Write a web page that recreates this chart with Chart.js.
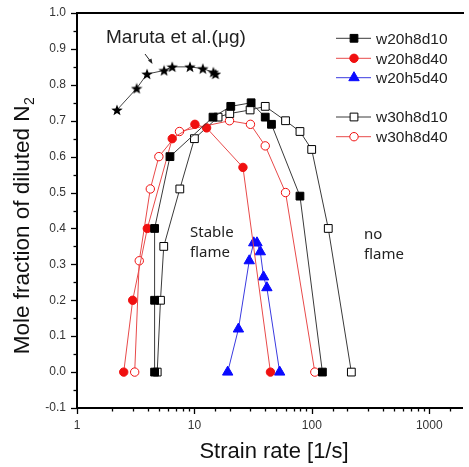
<!DOCTYPE html>
<html><head><meta charset="utf-8">
<script src="https://cdn.jsdelivr.net/npm/chart.js@4/dist/chart.umd.min.js"></script>
<style>html,body{margin:0;padding:0;background:#fff;overflow:hidden}#wrap{width:469px;height:467px;position:relative}</style>
</head><body><div id="wrap"><canvas id="c" width="469" height="467"></canvas></div>
<script>
// ---- data ----
const marutaX = [2.19, 3.22, 3.95, 5.52, 6.47, 9.16, 11.8, 14.5, 15.1];
const marutaY = [0.73, 0.79, 0.83, 0.84, 0.85, 0.85, 0.845, 0.835, 0.83];
const w20h8d10X = [4.58, 4.58, 4.58, 6.19, 14.4, 20.4, 30.4, 40.1, 45.3, 79.2, 123];
const w20h8d10Y = [0, 0.2, 0.4, 0.6, 0.71, 0.74, 0.75, 0.71, 0.69, 0.49, 0];
const w20h8d40X = [2.50, 2.98, 3.97, 6.47, 10.1, 12.7, 25.9, 44.4];
const w20h8d40Y = [0, 0.2, 0.4, 0.65, 0.69, 0.68, 0.57, 0];
const w20h5d40X = [19.2, 23.7, 29.3, 32.0, 34.1, 36.4, 38.8, 41.4, 53.2];
const w20h5d40Y = [0, 0.12, 0.31, 0.36, 0.36, 0.335, 0.265, 0.235, 0];
const w30h8d10X = [4.82, 5.14, 5.48, 7.51, 10.0, 15.9, 20.0, 29.8, 40.1, 59.7, 79.2, 99.7, 138, 217];
const w30h8d10Y = [0, 0.2, 0.35, 0.51, 0.65, 0.71, 0.72, 0.73, 0.74, 0.70, 0.67, 0.62, 0.40, 0];
const w30h8d40X = [3.10, 3.39, 4.21, 4.98, 7.46, 19.9, 30.0, 40.1, 59.7, 106];
const w30h8d40Y = [0, 0.31, 0.51, 0.60, 0.67, 0.70, 0.69, 0.63, 0.50, 0];
const xMajorLabels = [1, 10, 100, 1000];
const xMin = 1, xMax = 1900, yMin = -0.1, yMax = 1.0, yStep = 0.1;
const seriesNames = ['w20h8d10', 'w20h8d40', 'w20h5d40', 'w30h8d10', 'w30h8d40'];

function pts(xs, ys) { return xs.map((x, i) => ({x: x, y: ys[i]})); }

// five-pointed star marker
function starCanvas(size) {
  const cv = document.createElement('canvas');
  cv.width = size; cv.height = size;
  const g = cv.getContext('2d');
  const cx = size / 2, cy = size / 2 + 0.5, R = size / 2, r = R * 0.42;
  g.beginPath();
  for (let i = 0; i < 10; i++) {
    const a = -Math.PI / 2 + i * Math.PI / 5;
    const rr = i % 2 === 0 ? R : r;
    const px = cx + rr * Math.cos(a), py = cy + rr * Math.sin(a);
    if (i === 0) g.moveTo(px, py); else g.lineTo(px, py);
  }
  g.closePath();
  g.fillStyle = '#000';
  g.fill();
  return cv;
}
const star = starCanvas(12);

const BLK = '#000000', BLKL = '#3a3a3a', RED = '#f01010', REDL = '#e84a4a', BLU = '#0a0aff', BLUL = '#3a3ae0';

const styles = [
  {line: BLKL, fill: BLK, stroke: BLK, shape: 'rect', r: 5.5},
  {line: REDL, fill: RED, stroke: RED, shape: 'circle', r: 4.2},
  {line: BLUL, fill: BLU, stroke: BLU, shape: 'triangle', r: 6},
  {line: BLKL, fill: '#fff', stroke: BLK, shape: 'rect', r: 5.5},
  {line: REDL, fill: '#fff', stroke: RED, shape: 'circle', r: 4.2}
];
const dataSets = [pts(w20h8d10X, w20h8d10Y), pts(w20h8d40X, w20h8d40Y), pts(w20h5d40X, w20h5d40Y), pts(w30h8d10X, w30h8d10Y), pts(w30h8d40X, w30h8d40Y)];

const datasets = seriesNames.map((n, i) => ({
  label: n, data: dataSets[i], borderColor: styles[i].line, borderWidth: 1,
  pointStyle: styles[i].shape, pointRadius: styles[i].r, pointBackgroundColor: styles[i].fill,
  pointBorderColor: styles[i].stroke, pointBorderWidth: 1, tension: 0, fill: false
}));
datasets.push({label: 'Maruta', data: pts(marutaX, marutaY), borderColor: '#444', borderWidth: 1,
  pointStyle: star, pointRadius: 6, tension: 0, fill: false});

const FONT = '"Liberation Sans", Arial, sans-serif';

const deco = {
  id: 'deco',
  afterDraw(chart) {
    const ctx = chart.ctx, a = chart.chartArea, xs = chart.scales.x, ys = chart.scales.y;
    ctx.save();
    // top border
    ctx.strokeStyle = '#000'; ctx.lineWidth = 2;
    ctx.beginPath(); ctx.moveTo(a.left - 1, a.top); ctx.lineTo(a.right + 2, a.top); ctx.stroke();
    // x ticks (outward)
    ctx.lineWidth = 1.3;
    xs.ticks.forEach(t => {
      const v = t.value; const lg = Math.log10(v);
      const major = Math.abs(lg - Math.round(lg)) < 1e-6;
      const px = Math.round(xs.getPixelForValue(v)) + 0.5;
      if (px > a.right) return;
      ctx.beginPath(); ctx.moveTo(px, a.bottom); ctx.lineTo(px, a.bottom + (major ? 6 : 3.5)); ctx.stroke();
    });
    // y ticks (outward)
    ys.ticks.forEach(t => {
      const py = Math.round(ys.getPixelForValue(t.value)) + 0.5;
      ctx.beginPath(); ctx.moveTo(a.left, py); ctx.lineTo(a.left - 6, py); ctx.stroke();
      const mv = t.value + yStep / 2;
      if (mv < yMax) {
        const pm = Math.round(ys.getPixelForValue(mv)) + 0.5;
        ctx.beginPath(); ctx.moveTo(a.left, pm); ctx.lineTo(a.left - 3.5, pm); ctx.stroke();
      }
    });
    // axis titles
    ctx.fillStyle = '#111';
    ctx.font = '22px ' + FONT; ctx.textAlign = 'center'; ctx.textBaseline = 'middle';
    ctx.fillText('Strain rate [1/s]', 274, 452);
    ctx.save();
    ctx.translate(21, 226); ctx.rotate(-Math.PI / 2);
    const main = 'Mole fraction of diluted N';
    ctx.font = '22.5px ' + FONT;
    const w1 = ctx.measureText(main).width;
    ctx.font = '14px ' + FONT;
    const w2 = ctx.measureText('2').width;
    const x0 = -(w1 + w2) / 2;
    ctx.textAlign = 'left'; ctx.textBaseline = 'alphabetic';
    ctx.font = '22.5px ' + FONT; ctx.fillText(main, x0, 8);
    ctx.font = '14px ' + FONT; ctx.fillText('2', x0 + w1 + 0.5, 13);
    ctx.restore();
    // annotations
    ctx.fillStyle = '#222'; ctx.textAlign = 'left'; ctx.textBaseline = 'middle';
    ctx.font = '19px ' + FONT;
    ctx.fillText('Maruta et al.(\u03bcg)', 106, 38);
    ctx.font = '15px "Noto Sans", "Open Sans", sans-serif';
    ctx.fillText('Stable', 190, 233);
    ctx.fillText('flame', 190, 253);
    ctx.fillText('no', 364, 235);
    ctx.fillText('flame', 364, 255);
    // arrow
    ctx.strokeStyle = '#222'; ctx.lineWidth = 1;
    ctx.beginPath(); ctx.moveTo(145, 54); ctx.lineTo(151, 62); ctx.stroke();
    ctx.fillStyle = '#222';
    ctx.beginPath(); ctx.moveTo(152.5, 64); ctx.lineTo(148, 60.5); ctx.lineTo(151.5, 58.5); ctx.closePath(); ctx.fill();
    // legend
    const rows = [38.3, 58.3, 77.7, 117, 136.7];
    ctx.font = '15.5px ' + FONT;
    rows.forEach((ry, i) => {
      const s = styles[i];
      ctx.strokeStyle = s.line; ctx.lineWidth = 1;
      ctx.beginPath(); ctx.moveTo(336, ry); ctx.lineTo(371, ry); ctx.stroke();
      ctx.fillStyle = s.fill; ctx.strokeStyle = s.stroke;
      Chart.helpers.drawPoint(ctx, {pointStyle: s.shape, radius: s.r, borderWidth: 1, rotation: 0}, 354, ry);
      ctx.fillStyle = '#222'; ctx.textBaseline = 'middle'; ctx.textAlign = 'left';
      ctx.fillText(seriesNames[i], 376, ry + 1);
    });
    ctx.restore();
  }
};

new Chart(document.getElementById('c'), {
  type: 'line',
  data: {datasets: datasets},
  options: {
    responsive: false, animation: false, devicePixelRatio: 1,
    layout: {padding: {top: 13, left: 0, right: 0, bottom: 0}},
    plugins: {legend: {display: false}, tooltip: {enabled: false}},
    scales: {
      x: {
        type: 'logarithmic', min: xMin, max: xMax,
        grid: {display: false},
        border: {display: true, color: '#000', width: 2},
        afterFit(s) { s.height = 59; },
        ticks: {
          autoSkip: false, maxRotation: 0, padding: 2, color: '#333',
          font: {family: FONT, size: 12},
          callback(v) { return xMajorLabels.includes(v) ? String(v) : ''; }
        }
      },
      y: {
        min: yMin, max: yMax,
        grid: {display: false},
        border: {display: true, color: '#000', width: 2},
        afterFit(s) { s.width = 77; },
        ticks: {
          stepSize: yStep, padding: 3, color: '#333',
          font: {family: FONT, size: 12},
          callback(v) { return Number(v).toFixed(1); }
        }
      }
    }
  },
  plugins: [deco]
});
</script></body></html>
